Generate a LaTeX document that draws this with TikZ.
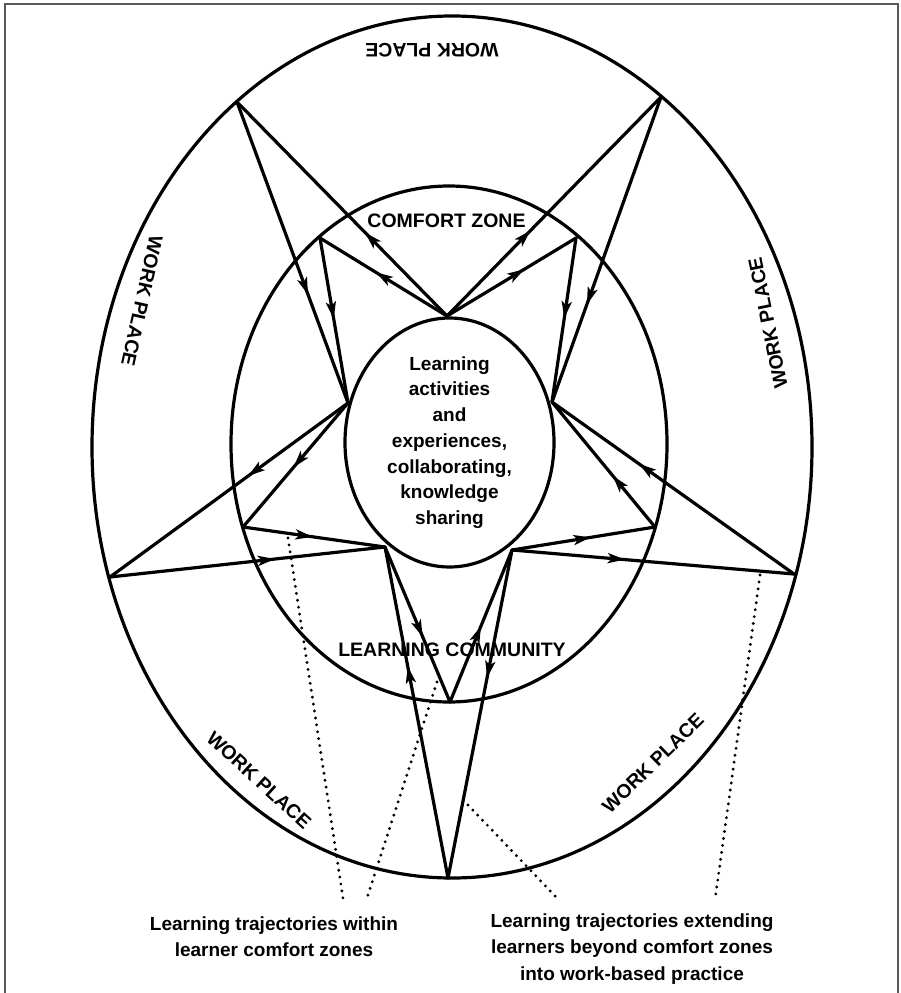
\documentclass[tikz,border=0pt]{standalone}
\usepackage{fontspec}
\setmainfont{Liberation Sans}
\usetikzlibrary{shapes.geometric,arrows.meta,decorations.markings}
\tikzset{
  ln/.style={line width=3.2pt, line cap=round, line join=round},
  ring/.style={draw, ellipse, line width=3.2pt, inner sep=0pt},
  arr/.style={ln, postaction={decorate}, decoration={markings,
      mark=at position #1 with {\arrow{Stealth[length=17pt,width=10pt,inset=4pt]}}}},
  dots/.style={line width=3.2pt, line cap=round, dash pattern=on 0pt off 7pt},
  zone/.style={font=\fontsize{19.5}{22}\selectfont\bfseries},
  wp/.style={font=\fontsize{19.5}{22}\selectfont\bfseries},
  captext/.style={font=\fontsize{19}{26.5}\selectfont\bfseries, align=center}
}
\begin{document}
\begin{tikzpicture}[x=1pt,y=-1pt]
\useasboundingbox (0,0) rectangle (900,993);
% frame
\draw[line width=1.2pt, black!65] (5,993) -- (5,4) -- (898,4) -- (898,993);
% ellipses
\node[ring, minimum width=720pt, minimum height=862pt] (wpl) at (452,447) {};
\node[ring, minimum width=436pt, minimum height=516pt] (cz) at (449,444) {};
\node[ring, minimum width=209pt, minimum height=249pt, align=center,
      font=\fontsize{19}{25.7}\selectfont\bfseries] (core) at (449.5,442.5)
  {Learning\\activities\\and\\experiences,\\collaborating,\\knowledge\\sharing};
% vertices on the core ellipse
\coordinate (T) at (447,316);
\coordinate (L) at (348,403);
\coordinate (R) at (552,402);
\coordinate (BL) at (385,547);
\coordinate (BR) at (512,550);
% vertices on the comfort zone
\coordinate (MTL) at (320,238);
\coordinate (MTR) at (576,238);
\coordinate (ML) at (243,527);
\coordinate (MR) at (655,527);
\coordinate (MB) at (450,702);
% vertices on the work place
\coordinate (OTL) at (237,102);
\coordinate (OTR) at (661,97);
\coordinate (OL) at (110,577);
\coordinate (OR) at (794,574);
\coordinate (OB) at (448,878);
% trajectories
\draw[arr=0.39] (T) -- (OTL);
\draw[arr=0.64] (OTL) -- (L);
\draw[arr=0.56] (T) -- (MTL);
\draw[arr=0.49] (MTL) -- (L);
\draw[arr=0.39] (T) -- (OTR);
\draw[arr=0.60] (T) -- (MTR);
\draw[arr=0.68] (OTR) -- (R);
\draw[arr=0.49] (MTR) -- (R);
\draw[arr=0.52] (L) -- (ML);
\draw[arr=0.42] (L) -- (OL);
\draw[arr=0.49] (ML) -- (BL);
\draw[arr=0.60] (OL) -- (BL);
\draw[arr=0.58] (BL) -- (MB);
\draw[arr=0.64] (OB) -- (BL);
\draw[arr=0.50] (MB) -- (BR);
\draw[arr=0.39] (BR) -- (OB);
\draw[arr=0.55] (BR) -- (MR);
\draw[arr=0.40] (BR) -- (OR);
\draw[arr=0.41] (MR) -- (R);
\draw[arr=0.64] (OR) -- (R);
% zone labels
\node[zone] (czl) at (446.5,221) {COMFORT ZONE};
\node[zone] (lcl) at (452,650) {LEARNING COMMUNITY};
\node[wp, rotate=180] (wpt) at (432,50) {WORK PLACE};
\node[wp, rotate=-102.5] (wpw) at (142,301) {WORK PLACE};
\node[wp, rotate=101.5] (wpe) at (768,323) {WORK PLACE};
\node[wp, rotate=-42.4] (wpsw) at (259,780) {WORK PLACE};
\node[wp, rotate=44.4] (wpse) at (653,763) {WORK PLACE};
% captions
\node[captext] (capl) at (274,936.5) {Learning trajectories within\\learner comfort zones};
\node[captext] (capr) at (632,949) {Learning trajectories extending\\learners beyond comfort zones\\into work-based practice};
% leader dots
\coordinate (d1a) at (288,538);
\coordinate (d1b) at (343,898);
\coordinate (d2a) at (437,682);
\coordinate (d2b) at (367,898);
\coordinate (d3a) at (468,805);
\coordinate (d3b) at (557,898);
\coordinate (d4a) at (760,575);
\coordinate (d4b) at (715,900);
\draw[dots] (d1a) -- (d1b);
\draw[dots] (d2a) -- (d2b);
\draw[dots] (d3a) -- (d3b);
\draw[dots] (d4a) -- (d4b);
\end{tikzpicture}
\end{document}
